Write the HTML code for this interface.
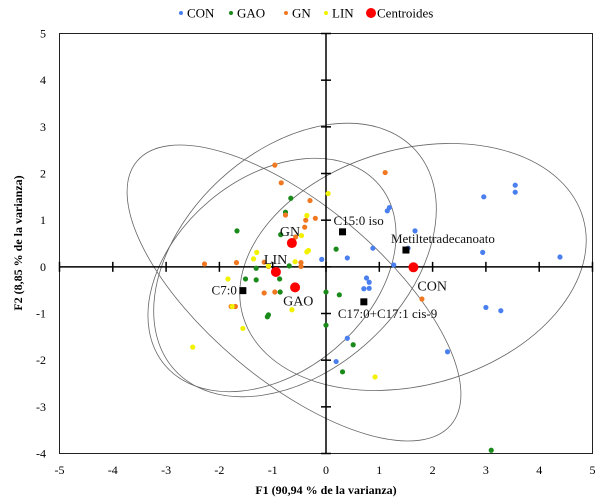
<!DOCTYPE html>
<html><head><meta charset="utf-8"><style>
body{margin:0;background:#fff;}
svg{display:block;font-family:"Liberation Serif",serif;}
</style></head><body>
<svg id="chart" width="606" height="498" viewBox="0 0 606 498"></svg>
<script>
const conX=[3.55,3.55,2.96,1.15,1.19,1.67,0.88,0.4,-0.08,1.27,1.54,2.94,4.39,0.76,0.81,0.71,0.81,3.0,3.28,2.28,0.4,0.19];
const conY=[1.75,1.6,1.5,1.2,1.27,0.77,0.4,0.19,0.16,0.04,0.4,0.31,0.21,-0.24,-0.33,-0.47,-0.46,-0.87,-0.94,-1.82,-1.53,-2.03];
const gaoX=[0.19,0,0.25,0,0.51,0.31,3.1,-0.66,-0.76,-1.67,-0.85,-1.31,-0.69,-0.87,-1.51,-1.31,-0.86,-1.1,-1.08];
const gaoY=[0.38,-0.54,-0.6,-1.25,-1.67,-2.25,-3.93,1.47,1.17,0.77,0.69,-0.03,0.02,-0.26,-0.26,-0.28,-0.54,-1.07,-1.03];
const gnX=[-0.96,-0.84,-0.3,-0.76,-0.38,-0.2,-0.57,-2.28,-1.68,-1.16,-1.08,-0.47,-0.47,-1.16,-0.96,-1.78,-1.7,1.11,1.8,-0.4];
const gnY=[2.18,1.8,1.42,1.11,1.0,1.04,0.64,0.06,0.09,0.1,0.01,0.09,0.01,-0.56,-0.54,-0.85,-0.85,2.02,-0.69,0.85];
const linX=[0.04,-0.36,-0.46,-1.3,-1.36,-0.36,-0.58,-1.08,-1.84,-1.76,-0.64,-1.56,-2.5,0.92,-0.33];
const linY=[1.57,1.1,0.67,0.31,0.17,0.32,0.11,0.02,-0.26,-0.85,-0.92,-1.32,-1.72,-2.36,0.35];
const centNames=["CON","GN","LIN","GAO"];
const centX=[1.64,-0.64,-0.94,-0.58];
const centY=[-0.01,0.51,-0.11,-0.44];
const varNames=["C15:0 iso","Metiltetradecanoato","C17:0+C17:1 cis-9","C7:0"];
const varX=[0.31,1.5,0.71,-1.56];
const varY=[0.75,0.36,-0.75,-0.51];
const xTicks=[-5,-4,-3,-2,-1,0,1,2,3,4,5];
const yTicks=[-4,-3,-2,-1,0,1,2,3,4,5];

const NS="http://www.w3.org/2000/svg";
const svg=document.getElementById('chart');
const L=59.5,R=592.5,T=33.5,B=453.5;
const sx=v=>L+(v+5)/10*(R-L);
const sy=v=>B-(v+4)/9*(B-T);
function mk(tag,attrs,parent){const e=document.createElementNS(NS,tag);for(const k in attrs)e.setAttribute(k,attrs[k]);(parent||svg).appendChild(e);return e;}

const fr=mk('rect',{x:L,y:T,width:R-L,height:B-T,fill:'none',stroke:'#222','stroke-width':1});



const ells=[[413,267,177,118,-16],[294,293,205,88,40],[295,260,163,110,-42.5],[272,275,140,97,-40]];
const eNames=['ellipse-con','ellipse-gn','ellipse-gao','ellipse-lin'];
ells.forEach((e,i)=>{
  const el=mk('ellipse',{cx:e[0],cy:e[1],rx:e[2],ry:e[3],transform:`rotate(${e[4]} ${e[0]} ${e[1]})`,fill:'none',stroke:'#666','stroke-width':0.8});
  
  
});

const ax=mk('line',{x1:L,x2:R,y1:sy(0),y2:sy(0),stroke:'#000','stroke-width':1.5});


const ay=mk('line',{x1:sx(0),x2:sx(0),y1:T,y2:B,stroke:'#000','stroke-width':1.5});



xTicks.forEach(t=>{
  const tk=mk('line',{x1:sx(t),x2:sx(t),y1:sy(0)-5,y2:sy(0)+5,stroke:'#000','stroke-width':1.5});
  
  
  const lb=mk('text',{x:sx(t),y:474,'font-size':12,'text-anchor':'middle',fill:'#000'});
  lb.textContent=t;
  
  
});
yTicks.forEach(t=>{
  const tk=mk('line',{x1:sx(0)-5,x2:sx(0)+5,y1:sy(t),y2:sy(t),stroke:'#000','stroke-width':1.5});
  
  
  const lb=mk('text',{x:46,y:sy(t)+4,'font-size':12,'text-anchor':'end',fill:'#000'});
  lb.textContent=t;
  
  
});

function series(xs,ys,color,name){
  xs.forEach((x,i)=>{
    const c=mk('circle',{cx:sx(x),cy:sy(ys[i]),r:2.6,fill:color});
    
    
  });
}
series(conX,conY,'#4a7ff0','point-con');
series(gaoX,gaoY,'#1a8a1a','point-gao');
series(gnX,gnY,'#f07820','point-gn');
series(linX,linY,'#f2f200','point-lin');

varX.forEach((x,i)=>{
  const s=mk('rect',{x:sx(x)-3.5,y:sy(varY[i])-3.5,width:7,height:7,fill:'#000'});
  
  
});
const varLab=[[-9,-7,'start'],[-15,-7,'start'],[-26,16,'start'],[-6,4,'end']];
varNames.forEach((n,i)=>{
  const t=mk('text',{x:sx(varX[i])+varLab[i][0],y:sy(varY[i])+varLab[i][1],'font-size':13,'text-anchor':varLab[i][2],fill:'#111'});
  t.textContent=n;
  
  
});

const cLab=[[4,23],[-12,-7],[-12,-8],[-12,18]];
centX.forEach((x,i)=>{
  const c=mk('circle',{cx:sx(x),cy:sy(centY[i]),r:5,fill:'#f00'});
  
  
  const t=mk('text',{x:sx(x)+cLab[i][0],y:sy(centY[i])+cLab[i][1],'font-size':14,fill:'#111'});
  t.textContent=centNames[i];
  
  
});

const leg=[['CON','#4a7ff0',181,2],['GAO','#1a8a1a',231,2],['GN','#f07820',286,2],['LIN','#f2f200',326,2],['Centroides','#f00',371,5]];
leg.forEach(l=>{
  const c=mk('circle',{cx:l[2],cy:13,r:l[3],fill:l[1]});
  
  
  const t=mk('text',{x:l[2]+6,y:17.5,'font-size':13,fill:'#000'});
  t.textContent=l[0];
  
  
});

const xt=mk('text',{x:326,y:494,'font-size':12,'font-weight':'bold','text-anchor':'middle',fill:'#000'});
xt.textContent='F1 (90,94 % de la varianza)';


const yt=mk('text',{x:0,y:0,'font-size':12,'font-weight':'bold','text-anchor':'middle',fill:'#000',transform:'translate(22,243) rotate(-90)'});
yt.textContent='F2 (8,85 % de la varianza)';


</script>
</body></html>
